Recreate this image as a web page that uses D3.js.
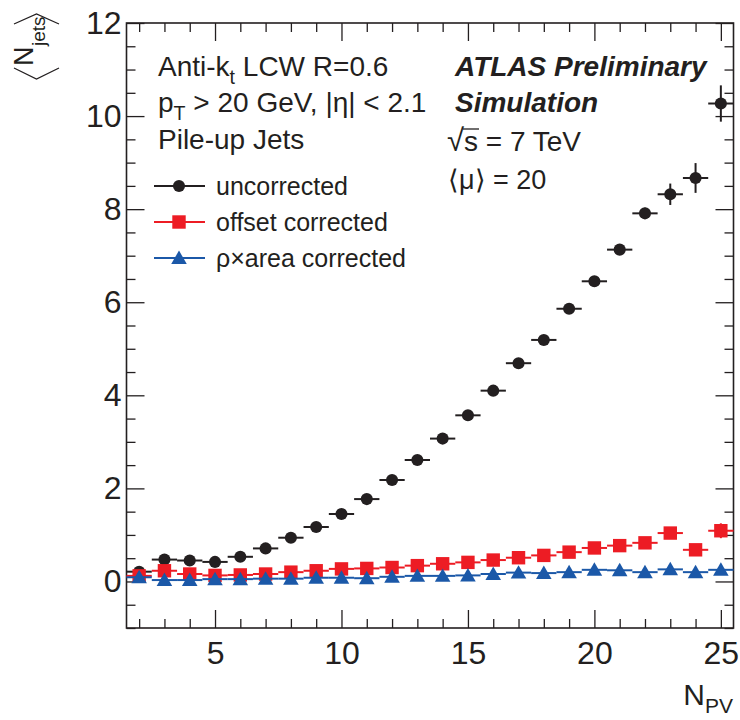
<!DOCTYPE html>
<html>
<head>
<meta charset="utf-8">
<script src="https://cdn.jsdelivr.net/npm/d3@7"></script>
<style>
  body { margin: 0; background: #fff; }
  svg text { font-family: "Liberation Sans", Arial, Helvetica, sans-serif; fill: #231f20; }
</style>
</head>
<body>
<svg id="chart"></svg>
<script>
// number of primary vertices
var npv = [2, 3, 4, 5, 6, 7, 8, 9, 10, 11, 12, 13, 14, 15, 16, 17, 18, 19, 20, 21, 22, 23, 24, 25];

var uncorrected = [0.21, 0.47, 0.45, 0.42, 0.53, 0.71, 0.94, 1.17, 1.45, 1.77, 2.18, 2.61, 3.07, 3.57, 4.10, 4.69, 5.19, 5.86, 6.45, 7.13, 7.91, 8.32, 8.67, 10.27];
var uncorrectedErr = [0.05, 0.04, 0.04, 0.04, 0.04, 0.04, 0.04, 0.04, 0.05, 0.05, 0.05, 0.05, 0.06, 0.06, 0.07, 0.07, 0.08, 0.08, 0.09, 0.10, 0.12, 0.23, 0.32, 0.39];

var offsetCorr = [0.12, 0.23, 0.16, 0.13, 0.14, 0.16, 0.20, 0.23, 0.27, 0.28, 0.30, 0.34, 0.38, 0.41, 0.46, 0.51, 0.56, 0.63, 0.72, 0.77, 0.83, 1.04, 0.68, 1.09];
var offsetErr = [0.03, 0.03, 0.03, 0.03, 0.03, 0.03, 0.03, 0.03, 0.03, 0.03, 0.03, 0.03, 0.03, 0.03, 0.04, 0.04, 0.04, 0.04, 0.05, 0.05, 0.06, 0.08, 0.10, 0.16];

var rhoCorr = [0.09, 0.03, 0.03, 0.05, 0.05, 0.06, 0.06, 0.08, 0.08, 0.07, 0.10, 0.12, 0.12, 0.13, 0.16, 0.19, 0.18, 0.20, 0.25, 0.24, 0.20, 0.26, 0.20, 0.25];
var rhoErr = [0.02, 0.02, 0.02, 0.02, 0.02, 0.02, 0.02, 0.02, 0.02, 0.02, 0.02, 0.02, 0.02, 0.02, 0.02, 0.03, 0.03, 0.03, 0.03, 0.03, 0.04, 0.04, 0.05, 0.06];

var xMajor = [5, 10, 15, 20, 25];
var yMajor = [0, 2, 4, 6, 8, 10, 12];

var width = 740, height = 720;
var padL = 126.5, padR = 733.5, padT = 23, padB = 628;

var ink = "#231f20", red = "#ed1c24", blue = "#1b58a8";

var svg = d3.select("#chart").attr("width", width).attr("height", height);

var x = d3.scaleLinear().domain([1.5, 25.5]).range([padL, padR]);
var y = d3.scaleLinear().domain([-1, 12]).range([padB, padT]);

var xMinor = x.ticks(24).filter(function(v) { return xMajor.indexOf(v) < 0; });
var yMinor = d3.range(-1, 12.01, 0.5).filter(function(v) { return yMajor.indexOf(v) < 0; });

// frame + ticks pointing inward, ROOT style
function drawAxis(axis, tr, showLabels) {
  var g = svg.append("g").attr("transform", tr).call(axis);
  g.select(".domain").remove();
  g.selectAll(".tick line").attr("stroke", ink).attr("stroke-width", 1.3);
  if (!showLabels) g.selectAll(".tick text").remove();
  return g;
}

var gx = drawAxis(d3.axisBottom(x).tickValues(xMajor).tickSize(-18).tickFormat(d3.format("d")), "translate(0," + padB + ")", true);
gx.selectAll(".tick text").attr("font-size", 32).attr("dy", "0.35em").attr("y", 25).attr("fill", ink);
drawAxis(d3.axisBottom(x).tickValues(xMinor).tickSize(-9), "translate(0," + padB + ")", false);
drawAxis(d3.axisTop(x).tickValues(xMajor).tickSize(-18), "translate(0," + padT + ")", false);
drawAxis(d3.axisTop(x).tickValues(xMinor).tickSize(-9), "translate(0," + padT + ")", false);

var gy = drawAxis(d3.axisLeft(y).tickValues(yMajor).tickSize(-18).tickFormat(d3.format("d")), "translate(" + padL + ",0)", true);
gy.selectAll(".tick text").attr("font-size", 32).attr("x", -5).attr("fill", ink);
drawAxis(d3.axisLeft(y).tickValues(yMinor).tickSize(-9), "translate(" + padL + ",0)", false);
drawAxis(d3.axisRight(y).tickValues(yMajor).tickSize(-18), "translate(" + padR + ",0)", false);
drawAxis(d3.axisRight(y).tickValues(yMinor).tickSize(-9), "translate(" + padR + ",0)", false);

svg.append("rect")
  .attr("x", padL).attr("y", padT)
  .attr("width", padR - padL).attr("height", padB - padT)
  .attr("fill", "none").attr("stroke", ink).attr("stroke-width", 1.6);

// series
var series = [
  { name: "uncorrected", vals: uncorrected, errs: uncorrectedErr, color: ink, shape: d3.symbolCircle, size: 115 },
  { name: "offset corrected", vals: offsetCorr, errs: offsetErr, color: red, shape: d3.symbolSquare, size: 180 },
  { name: "\u03c1\u00d7area corrected", vals: rhoCorr, errs: rhoErr, color: blue, shape: d3.symbolTriangle, size: 105 }
];

series.forEach(function(s) {
  var g = svg.append("g");
  var pts = npv.map(function(n, i) { return { n: n, v: s.vals[i], e: s.errs[i] }; });
  g.selectAll("line.h").data(pts).enter().append("line")
    .attr("x1", function(d) { return x(d.n - 0.5); })
    .attr("x2", function(d) { return x(d.n + 0.5); })
    .attr("y1", function(d) { return y(d.v); })
    .attr("y2", function(d) { return y(d.v); })
    .attr("stroke", s.color).attr("stroke-width", 2);
  g.selectAll("line.v").data(pts).enter().append("line")
    .attr("x1", function(d) { return x(d.n); })
    .attr("x2", function(d) { return x(d.n); })
    .attr("y1", function(d) { return y(d.v - d.e); })
    .attr("y2", function(d) { return y(d.v + d.e); })
    .attr("stroke", s.color).attr("stroke-width", 2);
  g.selectAll("path").data(pts).enter().append("path")
    .attr("d", d3.symbol().type(s.shape).size(s.size))
    .attr("transform", function(d) {
      var dy = s.shape === d3.symbolTriangle ? 1.5 : 0;
      return "translate(" + x(d.n) + "," + (y(d.v) + dy) + ")";
    })
    .attr("fill", s.color);
});

// text helper: pieces of [text, kind] where kind = "sub" or ""
function richText(g, xpos, ypos, pieces, size, anchor) {
  var t = g.append("text").attr("x", xpos).attr("y", ypos).attr("font-size", size)
    .attr("text-anchor", anchor || "start");
  var shift = 0;
  pieces.forEach(function(p) {
    var ts = t.append("tspan").text(p[0]);
    if (p[1] === "sub") {
      ts.attr("font-size", size * 0.7).attr("dy", size * 0.28 - shift);
      shift = size * 0.28;
    } else if (shift) {
      ts.attr("dy", -shift);
      shift = 0;
    }
  });
  return t;
}

var info = svg.append("g");
richText(info, 158, 76, [["Anti-k"], ["t", "sub"], [" LCW R=0.6"]], 28);
richText(info, 158, 112, [["p"], ["T", "sub"], [" > 20 GeV, |\u03b7| < 2.1"]], 28);
richText(info, 158, 149, [["Pile-up Jets"]], 28);

info.append("text").attr("x", 455).attr("y", 76).attr("font-size", 28)
  .attr("font-weight", "bold").attr("font-style", "italic").text("ATLAS Preliminary");
info.append("text").attr("x", 455).attr("y", 112).attr("font-size", 28)
  .attr("font-weight", "bold").attr("font-style", "italic").text("Simulation");

var sq = info.append("text").attr("x", 447).attr("y", 151).attr("font-size", 28);
sq.append("tspan").text("\u221a").attr("font-size", 31);
var sTs = sq.append("tspan").text("s");
sq.append("tspan").text(" = 7 TeV");
var sBox = sTs.node().getBBox();
info.append("line")
  .attr("x1", sBox.x - 1).attr("x2", sBox.x + sBox.width + 1)
  .attr("y1", sBox.y + 3).attr("y2", sBox.y + 3)
  .attr("stroke", ink).attr("stroke-width", 1.3);

info.append("text").attr("x", 448).attr("y", 189).attr("font-size", 27).text("\u27e8\u03bc\u27e9 = 20");

// legend
var legend = svg.append("g");
var legendY = [186, 222, 258];
series.forEach(function(s, i) {
  var ly = legendY[i];
  legend.append("line").attr("x1", 154).attr("x2", 205).attr("y1", ly).attr("y2", ly)
    .attr("stroke", s.color).attr("stroke-width", 2);
  legend.append("path").attr("d", d3.symbol().type(s.shape).size(s.size))
    .attr("transform", "translate(179," + (ly + (s.shape === d3.symbolTriangle ? 1.5 : 0)) + ")")
    .attr("fill", s.color);
  legend.append("text").attr("x", 216).attr("y", ly + 9).attr("font-size", 25).text(s.name);
});

// axis titles
richText(svg, 733, 705, [["N"], ["PV", "sub"]], 30, "end");

var yt = svg.append("g").attr("transform", "translate(33,80) rotate(-90)");
yt.append("path").attr("d", "M12,-19 L1,3.5 L12,26").attr("fill", "none").attr("stroke", ink).attr("stroke-width", 1.3);
yt.append("text").attr("x", 14).attr("y", 0).attr("font-size", 27).text("N");
yt.append("text").attr("x", 34).attr("y", 12).attr("font-size", 19).text("jets");
yt.append("path").attr("d", "M56,-19 L66,3.5 L56,26").attr("fill", "none").attr("stroke", ink).attr("stroke-width", 1.3);
</script>
</body>
</html>
